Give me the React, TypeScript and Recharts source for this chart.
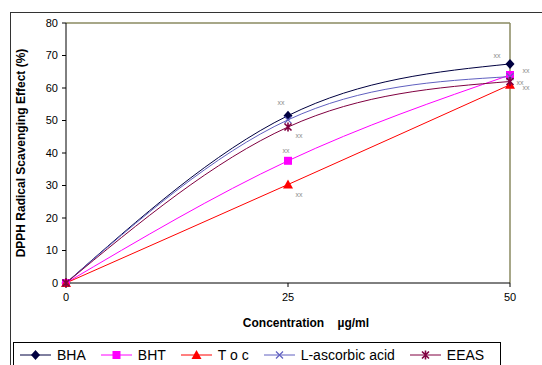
import { LineChart, Line, XAxis, YAxis, ReferenceLine } from "recharts";

// concentration (µg/ml)
const concentrations = [0, 25, 50];

// DPPH radical scavenging effect (%)
const bha = [0, 51.5, 67.4];
const bht = [0, 37.6, 64];
const toc = [0, 30.3, 61];
const ascorbic = [0, 50.2, 63.5];
const eeas = [0, 48, 62];

// significance marks next to the points
const bhaSig = ["", "xx", "xx"];
const bhtSig = ["", "xx", "xx"];
const tocSig = ["", "xx", "xx"];
const ascorbicSig = ["", "", ""];
const eeasSig = ["", "xx", "xx"];

const yTicks = [0, 10, 20, 30, 40, 50, 60, 70, 80];
const xTicks = [0, 25, 50];

const data = concentrations.map((c, i) => ({
  conc: c,
  bha: bha[i],
  bht: bht[i],
  toc: toc[i],
  ascorbic: ascorbic[i],
  eeas: eeas[i],
}));

type Shape = "diamond" | "square" | "triangle" | "cross" | "star";

interface Series {
  key: string;
  name: string;
  color: string;
  shape: Shape;
  sig: string[];
  // label offsets per point index
  offsets: [number, number][];
}

const series: Series[] = [
  { key: "bha", name: "BHA", color: "#000040", shape: "diamond", sig: bhaSig, offsets: [[0, 0], [-7, -11], [-13, -6]] },
  { key: "bht", name: "BHT", color: "#ff00ff", shape: "square", sig: bhtSig, offsets: [[0, 0], [-2, -8], [16, -2]] },
  { key: "toc", name: "T o c", color: "#ff0000", shape: "triangle", sig: tocSig, offsets: [[0, 0], [11, 12], [16, 5]] },
  { key: "ascorbic", name: "L-ascorbic acid", color: "#6060c0", shape: "cross", sig: ascorbicSig, offsets: [[0, 0], [0, 0], [0, 0]] },
  { key: "eeas", name: "EEAS", color: "#800040", shape: "star", sig: eeasSig, offsets: [[0, 0], [11, 11], [10, 3]] },
];

function Marker({ shape, cx, cy, color }: { shape: Shape; cx: number; cy: number; color: string }) {
  if (shape === "diamond")
    return <path d={`M${cx},${cy - 5}L${cx + 4.5},${cy}L${cx},${cy + 5}L${cx - 4.5},${cy}Z`} fill={color} />;
  if (shape === "square")
    return <rect x={cx - 4} y={cy - 4} width={8} height={8} fill={color} />;
  if (shape === "triangle")
    return <path d={`M${cx},${cy - 5}L${cx + 5},${cy + 4}L${cx - 5},${cy + 4}Z`} fill={color} />;
  if (shape === "cross")
    return (
      <path
        d={`M${cx - 3.5},${cy - 3.5}L${cx + 3.5},${cy + 3.5}M${cx + 3.5},${cy - 3.5}L${cx - 3.5},${cy + 3.5}`}
        stroke={color}
        strokeWidth={1.2}
      />
    );
  return (
    <path
      d={`M${cx - 3.5},${cy - 3.5}L${cx + 3.5},${cy + 3.5}M${cx + 3.5},${cy - 3.5}L${cx - 3.5},${cy + 3.5}M${cx},${cy - 4.5}L${cx},${cy + 4.5}`}
      stroke={color}
      strokeWidth={1.6}
    />
  );
}

function makeDot(s: Series) {
  return (props: any) => {
    const { cx, cy, index } = props;
    if (cx == null || cy == null) return <g key={index} />;
    return (
      <g key={index}>
        <Marker shape={s.shape} cx={cx} cy={cy} color={s.color} />
      </g>
    );
  };
}

function makeLabel(s: Series) {
  return (props: any) => {
    const { x, y, index } = props;
    const t = s.sig[index];
    if (!t) return null;
    const [dx, dy] = s.offsets[index];
    return (
      <text
        key={index}
        x={x + dx}
        y={y + dy}
        textAnchor="middle"
        fontSize={7}
        fill="#8c8c8c"
        fontFamily="Arial, 'Liberation Sans', sans-serif"
      >
        {t}
      </text>
    );
  };
}

function LegendSample({ s }: { s: Series }) {
  return (
    <svg width={31} height={12} style={{ display: "block" }}>
      <line x1={0} y1={6} x2={31} y2={6} stroke={s.color} strokeWidth={1} />
      <Marker shape={s.shape} cx={15.5} cy={6} color={s.color} />
    </svg>
  );
}

const tickStyle = { fill: "#000", fontSize: 11, fontFamily: "Arial, 'Liberation Sans', sans-serif" };

export default function App() {
  return (
    <div
      style={{
        position: "absolute",
        left: 0,
        top: 0,
        width: 542,
        height: 365,
        overflow: "hidden",
        background: "#fff",
        fontFamily: "Arial, 'Liberation Sans', sans-serif",
      }}
    >
      <div
        style={{
          position: "absolute",
          left: 10,
          top: 12,
          width: 600,
          height: 400,
          border: "1px solid #333",
        }}
      />
      <div style={{ position: "absolute", left: 0, top: 0 }}>
        <LineChart width={542} height={365} data={data} margin={{ top: 23, right: 32, bottom: 52, left: 10 }}>
          <XAxis
            dataKey="conc"
            type="number"
            domain={[0, 50]}
            ticks={xTicks}
            height={30}
            tick={tickStyle}
            tickSize={4}
            tickMargin={6}
            axisLine={{ stroke: "#000" }}
            tickLine={{ stroke: "#000" }}
            label={() => (
              <text
                x={306}
                y={327}
                textAnchor="middle"
                fontSize={12}
                fontWeight="bold"
                fontFamily="Arial, 'Liberation Sans', sans-serif"
                fill="#000"
                style={{ whiteSpace: "pre" }}
              >
                {"Concentration    \u00b5g/ml"}
              </text>
            )}
          />
          <YAxis
            type="number"
            domain={[0, 80]}
            ticks={yTicks}
            width={56}
            tick={tickStyle}
            tickSize={4}
            tickMargin={4}
            axisLine={{ stroke: "#000" }}
            tickLine={{ stroke: "#000" }}
            label={() => (
              <text
                x={22}
                y={153}
                transform="rotate(-90 22 153)"
                textAnchor="middle"
                dominantBaseline="middle"
                fontSize={12}
                fontWeight="bold"
                fontFamily="Arial, 'Liberation Sans', sans-serif"
                fill="#000"
              >
                DPPH Radical Scavenging Effect (%)
              </text>
            )}
          />
          <ReferenceLine y={80} stroke="#8a8a60" strokeWidth={1.5} ifOverflow="visible" />
          <ReferenceLine x={50} stroke="#8a8a60" strokeWidth={1.5} ifOverflow="visible" />
          {series.map((s) => (
            <Line
              key={s.key}
              dataKey={s.key}
              name={s.name}
              type="natural"
              stroke={s.color}
              strokeWidth={1}
              dot={makeDot(s)}
              activeDot={false}
              label={makeLabel(s)}
              isAnimationActive={false}
            />
          ))}
        </LineChart>
      </div>
      <div
        style={{
          position: "absolute",
          left: 13,
          top: 342,
          width: 488,
          height: 40,
          border: "1px solid #000",
          boxSizing: "border-box",
        }}
      >
        <div style={{ display: "flex", alignItems: "center", paddingLeft: 6, paddingTop: 4, gap: 15 }}>
          {series.map((s) => (
            <div key={s.key} style={{ display: "flex", alignItems: "center", gap: 6 }}>
              <LegendSample s={s} />
              <span style={{ fontSize: 14, lineHeight: "16px", color: "#000" }}>{s.name}</span>
            </div>
          ))}
        </div>
      </div>
    </div>
  );
}
